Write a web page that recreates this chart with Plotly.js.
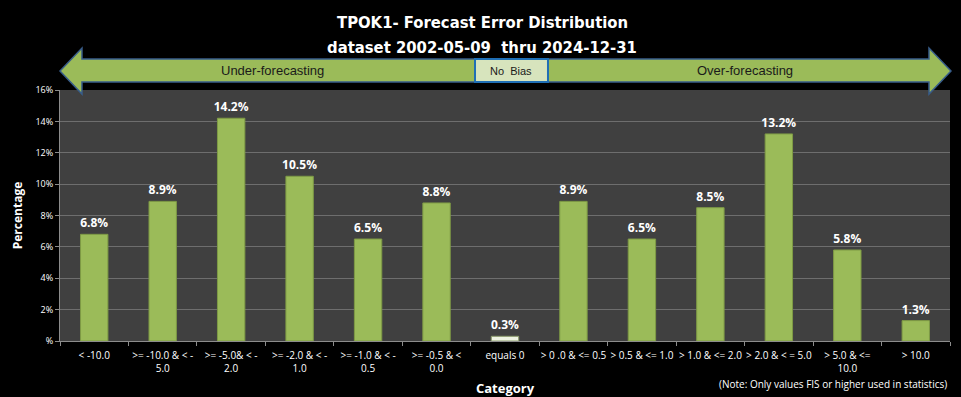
<!DOCTYPE html>
<html><head><meta charset="utf-8">
<script src="https://cdn.plot.ly/plotly-3.0.1.min.js"></script>
<style>html,body{margin:0;padding:0;background:#000;}#chart{width:961px;height:397px;}</style>
</head><body><div id="chart"></div>
<script>
const categories = ["< -10.0", ">= -10.0 & < -<br>5.0", ">= -5.0& < -<br>2.0", ">= -2.0 & < -<br>1.0", ">= -1.0 & < -<br>0.5", ">= -0.5 & <<br>0.0", "equals 0", "> 0 .0 & <= 0.5", "> 0.5 & <= 1.0", "> 1.0 & <= 2.0", "> 2.0 & < = 5.0", "> 5.0 & <=<br>10.0", "> 10.0"];
const percentages = [6.8, 8.9, 14.2, 10.5, 6.5, 8.8, 0.3, 8.9, 6.5, 8.5, 13.2, 5.8, 1.3];
const yTickVals = [0, 2, 4, 6, 8, 10, 12, 14, 16];
const yTickText = ["%", "2%", "4%", "6%", "8%", "10%", "12%", "14%", "16%"];
const titleLines = ["TPOK1- Forecast Error Distribution", "dataset 2002-05-09  thru 2024-12-31"];

const FONT = '"Liberation Sans", Arial, sans-serif';
const TFONT = '"DejaVu Sans Condensed", "Liberation Sans Narrow", "DejaVu Sans", sans-serif';
const green = '#9BBB59';
const pale = '#EEF3E2';
const colors = categories.map(c => c === 'equals 0' ? pale : green);
const lineColors = categories.map(c => c === 'equals 0' ? '#8a9a6a' : '#7E9A45');

const trace = {
  type: 'bar',
  x: categories,
  y: percentages,
  text: percentages.map(v => v.toFixed(1) + '%'),
  textposition: 'outside',
  constraintext: 'none',
  cliponaxis: false,
  textfont: {color: '#ffffff', size: 12, family: 'Open Sans, sans-serif', weight: 'bold'},
  marker: {color: colors, line: {color: lineColors, width: 1}},
  width: 0.4,
  hoverinfo: 'none'
};

const layout = {
  width: 961, height: 397,
  paper_bgcolor: '#000000',
  plot_bgcolor: '#404040',
  margin: {l: 60, r: 11, t: 90, b: 56},
  showlegend: false,
  font: {family: FONT, color: '#ffffff'},
  uniformtext: {mode: false},
  xaxis: {
    type: 'category',
    tickson: 'boundaries',
    ticks: 'outside', ticklen: 4, tickcolor: '#8c8c8c',
    showline: true, linecolor: '#8c8c8c', linewidth: 1,
    showgrid: false,
    tickfont: {size: 10, color: '#ffffff', family: 'Open Sans, sans-serif'},
    tickangle: 0,
    ticklabelstandoff: 5,
    automargin: false,
    title: {text: 'Category', font: {size: 13, color: '#ffffff', family: 'Open Sans, sans-serif', weight: 'bold'}, standoff: 10}
  },
  yaxis: {
    range: [0, 16],
    tickvals: yTickVals, ticktext: yTickText,
    ticks: 'outside', ticklen: 4, tickcolor: '#8c8c8c',
    showline: true, linecolor: '#8c8c8c',
    gridcolor: '#6e6e6e', gridwidth: 1,
    zeroline: false,
    tickfont: {size: 9, color: '#ffffff', family: 'Open Sans, sans-serif'},
    automargin: false,
    title: {text: 'Percentage', font: {size: 12, color: '#ffffff', family: 'Open Sans, sans-serif', weight: 'bold'}, standoff: 10}
  },
  shapes: [
    {
      type: 'path', xref: 'paper', yref: 'paper',
      path: 'M 0 1.0757 L 0.0247 1.1673 L 0.0247 1.1235 L 0.9764 1.1235 L 0.9764 1.1673 L 1.0011 1.0757 L 0.9764 0.984 L 0.9764 1.0319 L 0.0247 1.0319 L 0.0247 0.984 Z',
      fillcolor: '#9BBB59', line: {color: '#385D8A', width: 1.5}, layer: 'above'
    },
    {
      type: 'rect', xref: 'paper', yref: 'paper',
      x0: 0.4663, x1: 0.5483, y0: 1.0319, y1: 1.1235,
      fillcolor: '#D7E4BD', line: {color: '#1F6FB5', width: 2}, layer: 'above'
    }
  ],
  annotations: [
    {text: titleLines[0], xref: 'paper', yref: 'paper', x: 0.4747, y: 1.267, showarrow: false,
     font: {size: 16.5, color: '#ffffff', family: TFONT, weight: 'bold'}, xanchor: 'center', yanchor: 'middle'},
    {text: titleLines[1], xref: 'paper', yref: 'paper', x: 0.4747, y: 1.169, showarrow: false,
     font: {size: 16.5, color: '#ffffff', family: TFONT, weight: 'bold'}, xanchor: 'center', yanchor: 'middle'},
    {text: 'Under-forecasting', xref: 'paper', yref: 'paper', x: 0.2393, y: 1.0757, showarrow: false,
     font: {size: 13, color: '#1a1a1a', family: FONT}, xanchor: 'center', yanchor: 'middle'},
    {text: 'No  Bias', xref: 'paper', yref: 'paper', x: 0.5073, y: 1.0757, showarrow: false,
     font: {size: 11, color: '#1a1a1a', family: FONT}, xanchor: 'center', yanchor: 'middle'},
    {text: 'Over-forecasting', xref: 'paper', yref: 'paper', x: 0.7697, y: 1.0757, showarrow: false,
     font: {size: 13, color: '#1a1a1a', family: FONT}, xanchor: 'center', yanchor: 'middle'},
    {text: '(Note: Only values FIS or higher used in statistics)', xref: 'paper', yref: 'paper', x: 0.999, y: -0.17, showarrow: false,
     font: {size: 10, color: '#ffffff', family: 'Open Sans, sans-serif'}, xanchor: 'right', yanchor: 'middle'}
  ]
};

Plotly.newPlot('chart', [trace], layout, {displayModeBar: false, staticPlot: true});
</script>
</body></html>
